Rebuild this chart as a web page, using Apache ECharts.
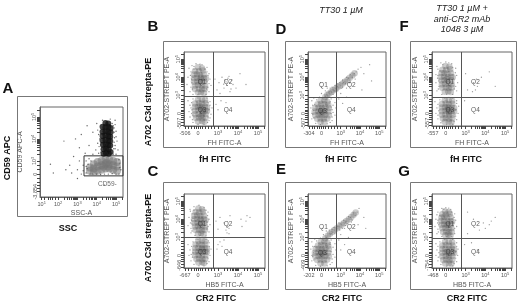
<!DOCTYPE html>
<html><head><meta charset="utf-8">
<style>html,body{margin:0;padding:0;background:#fff}#c{width:520px;height:306px}</style>
<script src="https://cdn.jsdelivr.net/npm/echarts@6/dist/echarts.min.js"></script>
</head><body><div id="c"></div>
<script>
// Axis positions are biexponential display decades: 2 = zero, 3..5 = 10^3..10^5
const quadrantTickValues=[1.35,1.5,1.65,1.8,1.9,2,2.1,2.2,2.35,2.5,2.65,2.8,3,3.3,3.48,3.6,3.7,3.78,3.85,3.9,3.95,4,4.3,4.48,4.6,4.7,4.78,4.85,4.9,4.95,5,5.3];
const panelATickX=[1.1,1.3,1.48,1.6,1.7,1.85,2,2.3,2.48,2.6,2.7,2.78,2.85,2.9,2.95,3,3.3,3.48,3.6,3.7,3.78,3.85,3.9,3.95,4,4.3,4.48,4.6,4.7,4.78,4.85,4.9,4.95,5,5.3];
const panelATickY=[1.6,1.75,1.9,2.05,2.2,2.4,2.6,2.8,3,3.3,3.48,3.6,3.7,3.78,3.85,3.9,3.95,4,4.3,4.48,4.6,4.7,4.78,4.85,4.9,4.95,5,5.3];
const gateXValue=2.76, gateYB=2.97, gateYC=3.02, gateYD=2.91, gateYE=2.97, gateYF=2.91, gateYG=2.97;

const quadNames=['Q1','Q2','Q3','Q4'];
const quadPositions=[[2.2,3.7],[3.5,3.7],[2.2,2.2],[3.5,2.2]];
const quadPositionsDE=[[2.1,3.55],[3.55,3.55],[2.05,2.1],[3.55,2.2]];

const lowB=['-506','-507'],lowC=['-667','-646'],lowD=['-304','-507'],lowE=['-202','-409'],lowF=['-557','-557'],lowG=['-468','-754'];

const coreB=[[2.0,4.55],[2.2,4.5],[1.85,4.35],[2.05,4.33],[2.25,4.37],[1.8,4.15],[1.95,4.17],[2.1,4.13],[2.3,4.16],[1.8,3.95],[1.95,3.97],[2.12,3.93],[2.3,3.96],[2.4,3.93],[1.8,3.75],[1.97,3.77],[2.15,3.73],[2.32,3.76],[1.85,3.55],[2.0,3.57],[2.18,3.53],[2.35,3.55],[1.85,3.35],[2.05,3.37],[2.2,3.33],[2.35,3.36],[2.0,3.15],[2.15,3.17],[2.3,3.13],
[2.0,2.75],[2.2,2.77],[2.35,2.73],[1.85,2.55],[2.05,2.57],[2.2,2.53],[2.38,2.56],[1.85,2.35],[2.0,2.37],[2.18,2.33],[2.35,2.36],[2.45,2.33],[1.85,2.15],[2.02,2.17],[2.2,2.13],[2.35,2.16],[2.45,2.13],[1.85,1.95],[2.03,1.97],[2.2,1.93],[2.38,1.96],[1.9,1.75],[2.05,1.77],[2.22,1.73],[2.38,1.76],[2.0,1.55],[2.2,1.57],[2.32,1.53],[2.15,2.25],[2.25,2.05],[2.1,2.4],[2.15,1.85],[2.1,3.8],[2.15,4.0]];
const coreC=[[2.02,4.6],[2.2,4.55],[1.88,4.4],[2.06,4.38],[2.24,4.42],[1.82,4.2],[1.96,4.22],[2.12,4.18],[2.3,4.21],[1.8,4.0],[1.96,4.02],[2.12,3.98],[2.3,4.01],[2.38,3.95],[1.82,3.8],[1.98,3.82],[2.15,3.78],[2.32,3.8],[1.85,3.6],[2.0,3.62],[2.18,3.58],[2.35,3.6],[1.88,3.4],[2.05,3.42],[2.2,3.38],[2.35,3.42],[2.0,3.2],[2.15,3.22],[2.28,3.18],
[2.02,2.8],[2.2,2.82],[2.35,2.78],[1.88,2.6],[2.05,2.62],[2.2,2.58],[2.36,2.6],[1.86,2.4],[2.02,2.42],[2.18,2.38],[2.34,2.4],[2.44,2.38],[1.86,2.2],[2.02,2.22],[2.2,2.18],[2.35,2.2],[2.44,2.18],[1.86,2.0],[2.03,2.02],[2.2,1.98],[2.37,2.0],[1.92,1.8],[2.06,1.82],[2.22,1.78],[2.36,1.8],[2.02,1.6],[2.2,1.62],[2.3,1.58],[2.12,2.2],[2.2,2.35],[2.12,4.0],[2.1,3.7]];
const coreD=[[1.95,2.7],[2.15,2.72],[2.3,2.65],[1.8,2.5],[1.98,2.52],[2.15,2.5],[2.35,2.48],[1.68,2.3],[1.85,2.32],[2.03,2.3],[2.2,2.33],[2.38,2.3],[1.65,2.1],[1.83,2.12],[2.0,2.1],[2.18,2.13],[2.35,2.1],[1.68,1.9],[1.85,1.92],[2.03,1.9],[2.2,1.93],[2.38,1.9],[1.78,1.7],[1.95,1.72],[2.12,1.7],[2.3,1.72],[1.95,1.52],[2.15,1.52],[2.0,2.2],[1.95,2.0],[2.1,2.05],
[2.2,2.9],[2.3,3.02],[2.4,3.1],[2.52,3.2],[2.62,3.28],[2.73,3.37],[2.85,3.46],[2.97,3.55],[3.1,3.65],[3.22,3.75],[3.35,3.85],[3.47,3.97],[3.6,4.1],[3.72,4.22]];
const coreE=[[1.97,2.75],[2.15,2.78],[2.3,2.7],[1.82,2.55],[1.98,2.57],[2.15,2.55],[2.35,2.53],[1.7,2.35],[1.85,2.37],[2.03,2.35],[2.2,2.38],[2.38,2.35],[1.66,2.15],[1.83,2.17],[2.0,2.15],[2.18,2.18],[2.35,2.15],[1.68,1.95],[1.85,1.97],[2.03,1.95],[2.2,1.98],[2.38,1.95],[1.78,1.75],[1.95,1.77],[2.12,1.75],[2.3,1.77],[1.95,1.55],[2.15,1.55],[2.0,2.25],[1.95,2.05],[2.1,2.1],
[2.2,2.95],[2.33,3.08],[2.44,3.2],[2.55,3.3],[2.67,3.4],[2.8,3.5],[2.92,3.6],[3.05,3.7],[3.17,3.8],[3.3,3.9],[3.42,4.0],[3.55,4.12],[3.67,4.25],[3.78,4.38]];
const coreF=[[1.98,4.62],[2.18,4.58],[1.83,4.42],[2.02,4.4],[2.22,4.44],[1.78,4.22],[1.93,4.24],[2.08,4.2],[2.26,4.23],[1.75,4.02],[1.92,4.04],[2.08,4.0],[2.26,4.03],[2.35,4.0],[1.78,3.82],[1.93,3.84],[2.1,3.8],[2.28,3.83],[1.8,3.62],[1.96,3.64],[2.13,3.6],[2.3,3.62],[1.82,3.42],[2.0,3.44],[2.15,3.4],[2.3,3.43],[1.95,3.2],[2.12,3.22],[2.25,3.18],
[1.95,2.72],[2.15,2.74],[2.32,2.7],[1.8,2.52],[2.0,2.54],[2.15,2.5],[2.33,2.53],[1.8,2.32],[1.96,2.34],[2.13,2.3],[2.3,2.33],[2.42,2.3],[1.8,2.12],[1.98,2.14],[2.15,2.1],[2.3,2.13],[2.42,2.1],[1.8,1.92],[1.98,1.94],[2.15,1.9],[2.33,1.93],[1.85,1.72],[2.0,1.74],[2.17,1.7],[2.33,1.73],[1.95,1.52],[2.15,1.54],[2.28,1.5],[2.1,2.2],[2.15,2.05],[2.05,3.9],[2.1,2.35]];
const coreG=[[1.96,4.45],[2.14,4.4],[1.82,4.28],[2.0,4.26],[2.2,4.3],[1.78,4.1],[1.92,4.12],[2.06,4.08],[2.24,4.11],[1.76,3.9],[1.92,3.92],[2.08,3.88],[2.24,3.91],[2.32,3.88],[1.78,3.7],[1.92,3.72],[2.1,3.68],[2.26,3.71],[1.82,3.5],[1.98,3.52],[2.14,3.48],[2.28,3.5],[1.86,3.3],[2.02,3.32],[2.16,3.28],[2.3,3.31],[1.98,3.12],[2.12,3.14],[2.24,3.1],
[1.96,2.75],[2.15,2.77],[2.32,2.72],[1.82,2.55],[2.0,2.57],[2.16,2.53],[2.34,2.55],[1.82,2.35],[1.98,2.37],[2.14,2.33],[2.3,2.36],[2.42,2.33],[1.82,2.15],[1.98,2.17],[2.15,2.13],[2.32,2.16],[2.42,2.13],[1.82,1.95],[2.0,1.97],[2.16,1.93],[2.33,1.96],[1.87,1.75],[2.02,1.77],[2.18,1.73],[2.33,1.76],[1.97,1.55],[2.16,1.57],[2.28,1.53],[2.08,2.2],[2.14,2.05],[2.05,3.7]];

const dotsB=[[1.55,4.5],[1.7,4.65],[1.9,4.75],[2.2,4.7],[2.45,4.55],[2.55,4.2],[2.6,3.9],[2.65,3.55],[2.55,3.2],[1.5,4.0],[1.45,3.6],[1.6,3.2],[1.75,3.05],[2.0,3.05],[2.4,3.05],[1.65,4.3],[1.8,4.45],[2.35,4.45],[2.45,3.75],[1.7,3.7],[1.75,4.0],[1.65,3.45],[2.5,3.45],[1.5,2.7],[1.6,2.45],[1.55,2.1],[1.6,1.8],[1.75,1.5],[2.0,1.4],[2.3,1.38],[2.55,1.6],[2.65,1.95],[2.7,2.3],[2.6,2.65],[2.45,2.85],[2.0,2.85],[1.75,2.8],[1.7,2.2],[1.75,1.9],[2.55,2.2],[2.5,1.8],[1.62,4.1],[1.68,3.9],[1.72,3.35],[2.5,4.1],[2.45,4.3],[2.55,3.65],[2.42,3.35],[1.68,2.6],[1.65,2.3],[1.68,2.0],[1.72,1.65],[2.48,1.5],[2.6,2.45],[2.6,1.75],[2.5,2.6],[1.8,4.6],[2.1,4.72],
[3.2,4.0],[3.35,3.85],[3.5,3.95],[3.6,3.7],[3.45,3.55],[3.7,3.85],[3.3,3.4],[3.05,3.7],[2.95,3.3],[3.9,3.4],[3.1,3.1],[3.65,3.35],[4.1,4.2],[3.15,2.7],[2.9,2.5],[3.0,2.2],[3.4,2.6],[3.55,4.05],[3.4,3.75],[3.28,3.62],[3.75,3.6],[3.6,3.2],[4.4,3.6],[2.85,3.9]];
const dotsC=[[1.6,4.55],[1.8,4.7],[2.05,4.78],[2.3,4.65],[2.5,4.4],[2.55,4.0],[2.6,3.7],[2.55,3.3],[2.4,3.08],[1.55,4.1],[1.5,3.65],[1.65,3.25],[1.85,3.1],[2.1,3.1],[1.7,4.3],[2.4,4.5],[2.45,3.85],[1.7,3.75],[1.75,4.05],[1.65,3.5],[1.5,2.6],[1.6,2.3],[1.55,2.0],[1.65,1.7],[1.8,1.5],[2.05,1.42],[2.3,1.42],[2.55,1.65],[2.6,2.0],[2.65,2.35],[2.55,2.7],[2.4,2.88],[2.0,2.88],[1.75,2.75],[1.75,2.15],[2.5,2.2],[2.5,1.85],[1.62,4.45],[1.68,3.95],[1.62,3.8],[1.7,3.35],[2.48,4.2],[2.5,3.6],[2.45,3.45],[1.68,2.5],[1.66,2.05],[1.72,1.9],[2.45,1.55],[2.56,2.5],[2.52,2.8],[1.8,4.5],[1.9,2.9],
[3.1,2.75],[3.0,2.6],[3.2,2.5],[2.95,2.35],[3.3,2.85],[3.4,3.4],[3.55,3.2],[3.3,3.8],[3.5,3.6],[3.1,4.1],[3.6,4.2],[4.15,4.0],[4.4,3.9],[4.45,4.2],[4.2,3.6],[3.0,3.45],[2.9,3.9],[3.55,3.5],[3.45,3.25],[4.6,4.1]];
const dotsD=[[1.5,2.7],[1.6,2.85],[1.45,2.3],[1.5,2.0],[1.5,1.7],[1.7,1.45],[1.95,1.38],[2.3,1.42],[2.55,1.6],[2.7,1.9],[2.75,2.3],[2.7,2.6],[2.5,2.8],[2.2,2.95],[1.9,2.9],[1.65,2.5],[1.55,1.95],[2.55,2.2],[2.55,1.8],[1.55,2.45],[1.6,2.15],[1.6,1.75],[2.45,1.5],[2.6,2.05],[2.6,2.45],[2.45,2.65],[1.75,2.75],[2.5,2.0],[2.5,2.35],
[2.0,3.1],[2.2,3.25],[2.4,3.2],[2.45,3.4],[2.7,3.25],[2.8,3.5],[2.85,3.65],[3.05,3.4],[3.15,3.7],[3.25,3.65],[3.4,3.95],[3.5,3.75],[3.6,4.0],[3.7,4.2],[3.8,4.3],[3.9,4.45],[4.05,4.55],[3.75,3.9],[3.3,3.4],[3.0,3.1],[2.9,2.8],[3.1,2.55],[3.3,2.9],[4.2,4.2],[4.5,4.7],[4.6,3.8],[4.1,3.3],[2.0,3.45],[1.95,3.7],[2.55,3.45],[2.7,3.55],[2.95,3.7],[3.1,3.85],[3.3,4.0],[3.5,4.15],[2.3,3.4],[2.6,3.05],[2.85,3.25],[3.1,3.45],[3.45,3.7]];
const dotsE=[[1.5,2.75],[1.65,2.9],[1.45,2.35],[1.5,2.0],[1.5,1.7],[1.7,1.45],[1.95,1.4],[2.3,1.42],[2.55,1.6],[2.7,1.9],[2.75,2.3],[2.7,2.65],[2.5,2.85],[2.25,3.0],[1.95,2.95],[1.65,2.5],[1.55,1.95],[2.5,2.2],[2.55,1.8],[1.55,2.5],[1.6,2.15],[1.6,1.75],[2.45,1.5],[2.6,2.05],[2.6,2.45],[2.45,2.7],[1.75,2.8],
[2.1,3.15],[2.25,3.35],[2.5,3.2],[2.55,3.45],[2.75,3.3],[2.85,3.6],[3.0,3.75],[3.1,3.5],[3.25,3.85],[3.35,3.75],[3.5,4.1],[3.6,3.95],[3.75,4.2],[3.85,4.4],[3.95,4.6],[3.2,3.5],[3.0,3.15],[2.9,2.85],[3.2,2.6],[3.4,3.0],[4.2,4.1],[4.3,3.5],[3.9,3.7],[2.05,3.5],[2.3,2.9],[2.45,2.6],[3.0,2.3],[2.4,3.4],[2.65,3.55],[2.9,3.8],[3.15,3.95],[3.4,4.15],[3.65,4.35],[2.7,3.2],[2.95,3.4],[3.25,3.65],[3.55,3.85]];
const dotsF=[[1.55,4.6],[1.75,4.8],[2.0,4.85],[2.3,4.75],[2.5,4.5],[2.55,4.1],[2.6,3.7],[2.55,3.25],[2.35,3.05],[1.5,4.15],[1.5,3.7],[1.55,3.25],[1.8,3.05],[2.05,3.05],[1.7,4.35],[2.35,4.55],[2.4,3.9],[1.65,3.8],[1.6,4.1],[1.65,3.5],[1.45,2.65],[1.55,2.3],[1.5,2.0],[1.6,1.7],[1.75,1.48],[2.05,1.38],[2.35,1.4],[2.55,1.65],[2.62,2.0],[2.65,2.4],[2.55,2.7],[2.35,2.85],[1.95,2.85],[1.7,2.75],[1.65,2.15],[2.5,2.2],[2.5,1.85],[1.6,4.45],[1.58,3.95],[1.62,3.35],[2.48,4.25],[2.5,3.5],[2.42,3.35],[1.6,2.5],[1.6,1.9],[2.42,1.55],[2.55,2.55],[1.85,4.7],[2.15,4.8],
[3.4,3.7],[3.6,3.5],[3.8,4.0],[4.2,4.3],[3.1,3.3],[2.95,2.7],[3.35,3.2],[4.5,3.5],[3.0,4.2],[3.5,3.3],[3.55,3.9]];
const dotsG=[[1.6,4.4],[1.8,4.6],[2.0,4.65],[2.25,4.55],[2.45,4.3],[2.5,3.95],[2.55,3.6],[2.45,3.2],[2.3,3.05],[1.5,4.0],[1.45,3.6],[1.55,3.2],[1.8,3.05],[2.05,3.05],[1.7,4.2],[2.3,4.4],[2.4,3.8],[1.65,3.7],[1.6,3.95],[1.6,3.45],[1.5,2.65],[1.55,2.3],[1.5,2.0],[1.6,1.7],[1.75,1.5],[2.05,1.4],[2.35,1.42],[2.55,1.65],[2.6,2.0],[2.62,2.35],[2.55,2.7],[2.35,2.88],[1.95,2.88],[1.7,2.75],[1.65,2.15],[2.5,2.2],[2.5,1.85],[1.55,4.25],[1.58,3.8],[1.62,3.3],[2.42,4.1],[2.45,3.5],[1.6,2.5],[1.62,1.9],[2.42,1.55],[2.55,2.5],[1.9,4.55],[2.15,4.62],
[3.1,4.4],[3.4,4.0],[3.7,3.4],[4.0,3.5],[4.3,3.9],[4.5,4.1],[4.2,3.7],[3.1,3.2],[2.95,2.6],[3.3,2.7],[3.6,2.3],[3.9,3.8]];

const coreABlack=[[4.45,4.72],[4.6,4.7],[4.3,4.55],[4.45,4.53],[4.6,4.55],[4.72,4.5],[4.3,4.33],[4.45,4.35],[4.6,4.32],[4.72,4.3],[4.3,4.13],[4.45,4.15],[4.6,4.12],[4.7,4.1],[4.3,3.93],[4.45,3.95],[4.6,3.92],[4.7,3.9],[4.32,3.73],[4.47,3.75],[4.6,3.72],[4.7,3.7],[4.35,3.53],[4.48,3.55],[4.62,3.52],[4.35,3.33],[4.48,3.35],[4.62,3.32],[4.72,3.4]];
const coreAGray=[[3.65,2.7],[3.65,2.55],[3.85,2.85],[3.85,2.65],[3.85,2.5],[4.05,2.95],[4.05,2.75],[4.05,2.55],[4.25,3.0],[4.25,2.8],[4.25,2.6],[4.45,3.05],[4.45,2.85],[4.45,2.65],[4.65,3.05],[4.65,2.85],[4.65,2.65],[4.85,3.0],[4.85,2.8],[4.85,2.6],[5.05,2.95],[5.05,2.75],[5.05,2.55],[4.5,2.9],[4.6,2.75],[4.35,2.75]];
const dotsA=[[4.0,4.7],[4.1,4.2],[4.05,3.8],[3.95,3.5],[4.2,3.4],[4.9,4.5],[5.0,4.1],[4.95,3.7],[5.1,3.5],[4.85,3.3],[4.2,4.6],[4.3,4.85],[4.7,4.9],[3.8,4.3],[3.5,4.6],[3.2,4.2],[2.9,4.0],[3.1,3.6],[3.6,3.7],[3.4,3.35],[3.8,3.3],[4.95,4.85],[5.05,3.9],[4.8,4.7],[2.8,3.2],[3.1,3.0],[3.0,2.6],[3.2,2.4],[3.45,2.45],[3.45,3.0],[3.6,3.1],[5.2,2.9],[5.25,2.6],[5.15,2.4],[4.6,2.4],[4.2,2.38],[3.8,2.4],[2.4,2.6],[2.6,2.8],[1.6,2.85],[1.75,2.45],[2.3,3.9],[4.4,1.9],[3.0,2.2],[2.7,2.45],
[4.9,4.3],[4.92,4.05],[4.9,3.85],[4.95,3.55],[5.0,3.3],[4.85,4.6],[4.05,4.4],[4.15,4.0],[4.12,3.65],[4.1,3.35],[4.95,4.65],[4.88,3.55],[5.0,4.35],[3.5,2.65],[3.55,2.85],[3.7,3.0],[3.45,2.75],[5.2,2.7],[5.15,3.05],[3.3,2.8],[3.3,2.55],[3.65,2.4],[4.0,2.4],[4.4,2.4],[4.8,2.42],[5.0,2.4]];
const aGateBox=[[3.34,3.23],[5.36,2.32]];

const chart=echarts.init(document.getElementById('c'),null,{renderer:'canvas'});
const grids=[],xAxes=[],yAxes=[],series=[];
function sup(v){return '10{s|'+v+'}';}
const rich={s:{fontSize:4,verticalAlign:'top',color:'#555',padding:[0,0,3,0]}};
function axis(kind,i,min,max,tickVals,labelMap,name,gap){
  return {type:'value',gridIndex:i,min,max,name,nameLocation:'middle',nameGap:gap,
    nameTextStyle:{color:'#555',fontSize:7,fontFamily:'Liberation Sans'},
    splitLine:{show:false},minorTick:{show:false},
    axisLine:{show:true,onZero:false,lineStyle:{color:'#666',width:1}},
    axisTick:{show:true,length:3,customValues:tickVals,lineStyle:{color:'#444',width:1}},
    axisLabel:{show:true,customValues:Object.keys(labelMap).map(Number),margin:kind==='y'?2:4,rotate:kind==='y'?90:0,color:'#555',fontSize:5.5,fontFamily:'Liberation Sans',rich,
      formatter:v=>labelMap[String(v)]}};
}
function panel(i,box,low,xName,yName,dots,core,gateY,quad){
  grids.push({left:box[0],top:box[1],width:box[2],height:box[3],show:true,borderColor:'#666',borderWidth:1,backgroundColor:'#fff'});
  const xMap={'1.35':low[0],'2':'0','3':sup(3),'4':sup(4),'5':sup(5)};
  const yMap={'1.45':low[1],'2':'0','3':sup(3),'4':sup(4),'5':sup(5)};
  xAxes.push(axis('x',i,1.3,5.35,quadrantTickValues,xMap,xName,14));
  yAxes.push(axis('y',i,1.3,5.4,quadrantTickValues,yMap,yName,13));
  series.push({type:'scatter',xAxisIndex:i,yAxisIndex:i,data:core,symbolSize:6.5,silent:true,itemStyle:{color:'#555',opacity:0.3}});
  series.push({type:'scatter',xAxisIndex:i,yAxisIndex:i,data:dots,symbolSize:1.3,silent:true,itemStyle:{color:'#777',opacity:0.75},
    markLine:{silent:true,symbol:'none',animation:false,label:{show:false},lineStyle:{color:'#555',width:1,type:'solid'},data:[{xAxis:gateXValue},{yAxis:gateY}]}});
  series.push({type:'scatter',xAxisIndex:i,yAxisIndex:i,symbolSize:0,silent:true,z:5,
    data:quad.map((p,k)=>({name:quadNames[k],value:p})),
    label:{show:true,position:'inside',formatter:'{b}',color:'#333',fontSize:6.5,fontFamily:'Liberation Sans'}});
}
panel(0,[184,52,81,74],lowB,'FH FITC-A','A702-STREPT PE-A',dotsB,coreB,gateYB,quadPositions);
panel(1,[184,194,81,74],lowC,'HB5 FITC-A','A702-STREPT PE-A',dotsC,coreC,gateYC,quadPositions);
panel(2,[308,52,78,74],lowD,'FH FITC-A','A702-STREPT PE-A',dotsD,coreD,gateYD,quadPositionsDE);
panel(3,[308,194,78,74],lowE,'HB5 FITC-A','A702-STREPT PE-A',dotsE,coreE,gateYE,quadPositionsDE);
panel(4,[432,52,80,74],lowF,'FH FITC-A','A702-STREPT PE-A',dotsF,coreF,gateYF,quadPositions);
panel(5,[432,194,80,74],lowG,'HB5 FITC-A','A702-STREPT PE-A',dotsG,coreG,gateYG,quadPositions);

// Panel A
grids.push({left:40,top:107,width:83,height:90,show:true,borderColor:'#666',borderWidth:1,backgroundColor:'#fff'});
xAxes.push(axis('x',6,1.06,5.36,panelATickX,{'1.15':sup(1),'2':sup(2),'3':sup(3),'4':sup(4),'5':sup(5)},'SSC-A',13));
yAxes.push(axis('y',6,1.36,5.45,panelATickY,{'1.6':'-3,854','2.4':'0','3':sup(3),'4':sup(4),'5':sup(5)},'CD59 APC-A',16));
series.push({type:'scatter',xAxisIndex:6,yAxisIndex:6,data:coreAGray,symbolSize:8,silent:true,itemStyle:{color:'#777',opacity:0.55}});
series.push({type:'scatter',xAxisIndex:6,yAxisIndex:6,data:coreABlack,symbolSize:6,silent:true,itemStyle:{color:'#111',opacity:0.8}});
series.push({type:'scatter',xAxisIndex:6,yAxisIndex:6,data:dotsA,symbolSize:1.4,silent:true,itemStyle:{color:'#444',opacity:0.8},
  markArea:{silent:true,animation:false,label:{show:false},itemStyle:{color:'rgba(0,0,0,0)',borderColor:'#333',borderWidth:1},
    data:[[{coord:aGateBox[0]},{coord:aGateBox[1]}]]}});
series.push({type:'scatter',xAxisIndex:6,yAxisIndex:6,symbolSize:0,silent:true,z:5,data:[{name:'CD59-',value:[4.55,1.95]}],
  label:{show:true,position:'inside',formatter:'{b}',color:'#444',fontSize:6.5,fontFamily:'Liberation Sans'}});

function txt(x,y,s,o){return {type:'text',x,y,silent:true,style:Object.assign({text:s,fill:'#111',font:'bold 9px "Liberation Sans"',align:'center',verticalAlign:'middle'},o||{})};}
function rot(x,y,s){return {type:'text',x,y,rotation:Math.PI/2,silent:true,style:{text:s,fill:'#111',font:'bold 9px "Liberation Sans"',align:'center',verticalAlign:'middle'}};}
function box(x,y,w,h){return {type:'rect',silent:true,z:-1,shape:{x:x+.5,y:y+.5,width:w,height:h},style:{fill:'none',stroke:'#777',lineWidth:1}};}
function letter(x,y,s){return txt(x,y,s,{font:'bold 15px "Liberation Sans"'});}
const ital={font:'italic 9px "Liberation Sans"',fill:'#222'};
const graphic=[
 box(17,96,110,120),box(163,41,105,106),box(163,182,105,107),box(285,41,105,106),box(285,182,105,107),box(410,41,106,106),box(410,182,106,107),
 letter(8,89,'A'),letter(153,27,'B'),letter(153,172,'C'),letter(281,30,'D'),letter(281,170,'E'),letter(404,27,'F'),letter(404,172,'G'),
 txt(341,10,'TT30 1 µM',ital),txt(462,8,'TT30 1 µM +',ital),txt(462,19,'anti-CR2 mAb',ital),txt(462,29,'1048 3 µM',ital),
 txt(215,160,'fH FITC'),txt(341,160,'fH FITC'),txt(466,160,'fH FITC'),
 txt(216,299,'CR2 FITC'),txt(342,299,'CR2 FITC'),txt(467,299,'CR2 FITC'),
 txt(68,229,'SSC'),rot(8,158,'CD59 APC'),rot(149,102,'A702 C3d strepta-PE'),rot(149,238,'A702 C3d strepta-PE')
];
chart.setOption({animation:false,backgroundColor:'#fff',grid:grids,xAxis:xAxes,yAxis:yAxes,series,graphic});
</script></body></html>
